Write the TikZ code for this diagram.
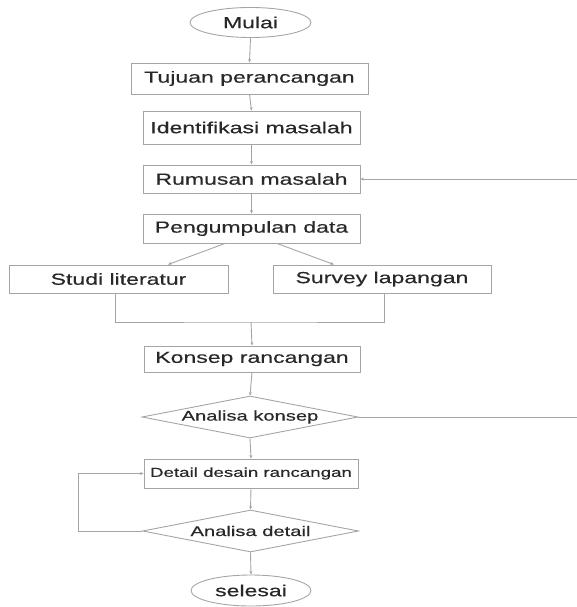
\documentclass[tikz,border=0pt]{standalone}
\usepackage{fontspec}
\setmainfont[FakeStretch=1.44,FakeBold=0.4]{Liberation Sans}
\usetikzlibrary{shapes.geometric,arrows.meta,calc}
\definecolor{ln}{RGB}{165,165,165}
\definecolor{tx}{RGB}{40,40,40}
\begin{document}
\begin{tikzpicture}[x=1pt,y=-1pt,
  every node/.style={text=tx,font=\fontsize{16}{18}\selectfont,inner sep=0pt},
  box/.style={draw=ln,line width=0.9pt,rectangle,minimum width=217pt},
  oval/.style={draw=ln,line width=0.9pt,ellipse,minimum width=121pt,minimum height=30pt},
  dia/.style={draw=ln,line width=0.9pt,diamond,shape aspect=5.1,minimum width=216pt,minimum height=42pt,font=\fontsize{14}{16}\selectfont},
  conn/.style={draw=ln,line width=0.9pt},
  arr/.style={conn,-{Stealth[length=3.5pt,width=3pt]}}]
\useasboundingbox (0,0) rectangle (576,607);
\node[oval] (mulai) at (250.5,22.5) {Mulai};
\node[box,minimum width=237pt,minimum height=31pt] (tujuan) at (249.5,78.5) {Tujuan perancangan};
\node[box,minimum height=33pt] (ident) at (251.5,127.5) {Identifikasi masalah};
\node[box,minimum height=28pt] (rumusan) at (251.5,179) {Rumusan masalah};
\node[box,minimum height=29pt] (kumpul) at (251.5,228.5) {Pengumpulan data};
\node[box,minimum width=219pt,minimum height=28pt] (studi) at (118.5,279) {Studi literatur};
\node[box,minimum width=218pt,minimum height=28pt] (survey) at (382,279) {Survey lapangan};
\node[box,minimum width=216pt,minimum height=26pt] (konsep) at (252,359) {Konsep rancangan};
\node[dia] (akonsep) at (250,417) {Analisa konsep};
\node[box,minimum width=214pt,minimum height=29pt,font=\fontsize{13}{15}\selectfont] (detail) at (251,473.5) {Detail desain rancangan};
\node[dia] (adetail) at (250.5,531) {Analisa detail};
\node[oval,minimum width=120pt,minimum height=31pt] (selesai) at (251,590.5) {selesai};
\coordinate (merge) at (251,322);
\coordinate (r1) at (579,417);
\draw[arr] (mulai.south) -- (tujuan.north);
\draw[arr] (tujuan.south) -- (ident.north);
\draw[arr] (ident.south) -- (rumusan.north);
\draw[arr] (rumusan.south) -- (kumpul.north);
\draw[arr] ($(kumpul.south)+(-26.5,0)$) -- ($(studi.north)+(49.5,0)$);
\draw[arr] ($(kumpul.south)+(25.5,0)$) -- ($(survey.north)+(-48,0)$);
\draw[conn] ($(studi.south)+(-3.5,0)$) |- (merge) -| ($(survey.south)+(2,0)$);
\draw[arr] (merge) -- (konsep.north);
\draw[arr] (konsep.south) -- (akonsep.north);
\draw[arr] (akonsep.south) -- (detail.north);
\draw[arr] (detail.south) -- (adetail.north);
\draw[arr] (adetail.south) -- (selesai.north);
\draw[arr] (adetail.west) -- ++(-64,0) |- (detail.west);
\draw[arr] (akonsep.east) -- (r1) |- (rumusan.east);
\end{tikzpicture}
\end{document}
